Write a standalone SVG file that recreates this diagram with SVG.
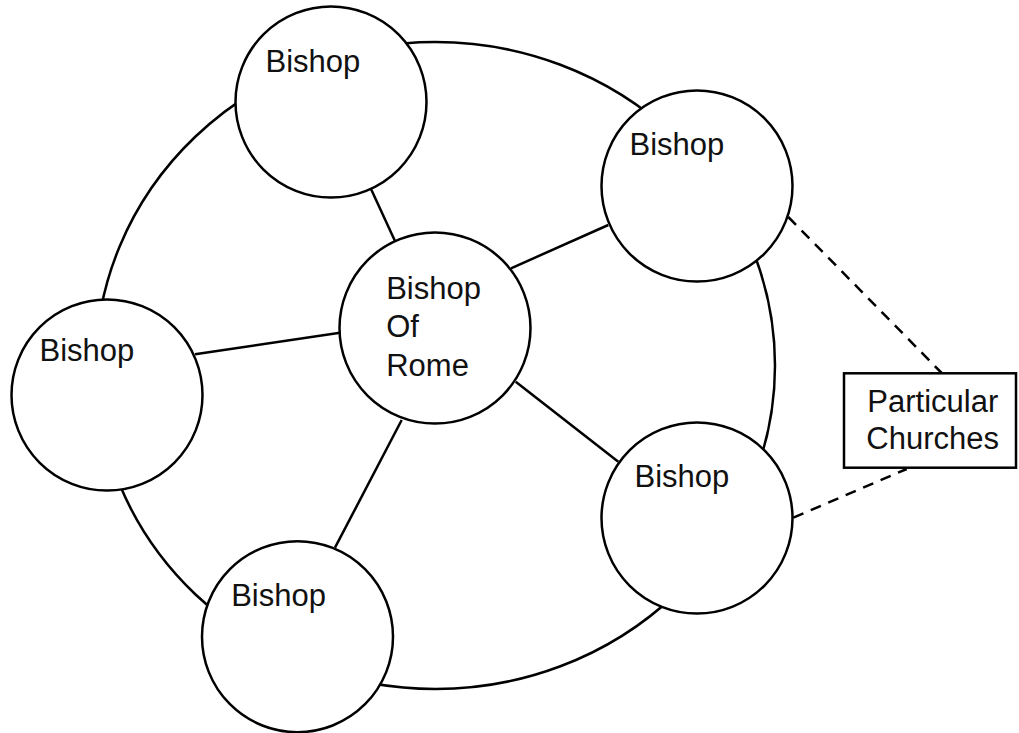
<svg xmlns="http://www.w3.org/2000/svg" width="1019" height="733" viewBox="0 0 1019 733">
<style>
.ring{fill:none;stroke:#000;stroke-width:2.5}
.spoke{stroke:#000;stroke-width:2.5;fill:none}
.dash{stroke:#000;stroke-width:2.5;fill:none;stroke-dasharray:11 8}
.node{fill:#fff;stroke:#000;stroke-width:2.5}
.lbl{font-family:"Liberation Sans",Arial,Helvetica,sans-serif;font-size:31px;fill:#111}
</style>
<rect width="1019" height="733" fill="#fff"/>
<g id="connectors">
<ellipse class="ring" cx="435.4" cy="365.5" rx="339.6" ry="323.5"/>
<line class="spoke" x1="370.9" y1="188.7" x2="395.1" y2="241.3"/>
<line class="spoke" x1="511" y1="268.3" x2="608.3" y2="225"/>
<line class="spoke" x1="195" y1="354.3" x2="340" y2="332.7"/>
<line class="spoke" x1="335" y1="547.7" x2="401.7" y2="420"/>
<line class="spoke" x1="515.7" y1="381.7" x2="618.3" y2="461.7"/>
<line class="dash" x1="788.3" y1="217" x2="941.7" y2="373"/>
<line class="dash" x1="793.3" y1="517.7" x2="906.7" y2="469"/>
</g>
<g id="bishop-top">
<circle class="node" cx="331" cy="102" r="95.5"/>
<text class="lbl" x="265.5" y="71.7">Bishop</text>
</g>
<g id="bishop-topright">
<circle class="node" cx="697" cy="186" r="95.5"/>
<text class="lbl" x="629.5" y="155">Bishop</text>
</g>
<g id="bishop-left">
<circle class="node" cx="107" cy="395" r="95.5"/>
<text class="lbl" x="39.5" y="360.7">Bishop</text>
</g>
<g id="bishop-bottomleft">
<circle class="node" cx="297.5" cy="636.7" r="95.5"/>
<text class="lbl" x="231.2" y="606">Bishop</text>
</g>
<g id="bishop-bottomright">
<circle class="node" cx="697" cy="518" r="95.5"/>
<text class="lbl" x="634.5" y="487.3">Bishop</text>
</g>
<g id="bishop-of-rome">
<circle class="node" cx="435" cy="328" r="95.5"/>
<text class="lbl" x="386.2" y="299.3">Bishop</text>
<text class="lbl" x="386.2" y="337.3">Of</text>
<text class="lbl" x="386.2" y="375.7">Rome</text>
</g>
<g id="particular-churches">
<rect class="node" x="844" y="373.3" width="172" height="94.4"/>
<text class="lbl" x="867.3" y="411.7">Particular</text>
<text class="lbl" x="866.3" y="449.3">Churches</text>
</g>
</svg>
